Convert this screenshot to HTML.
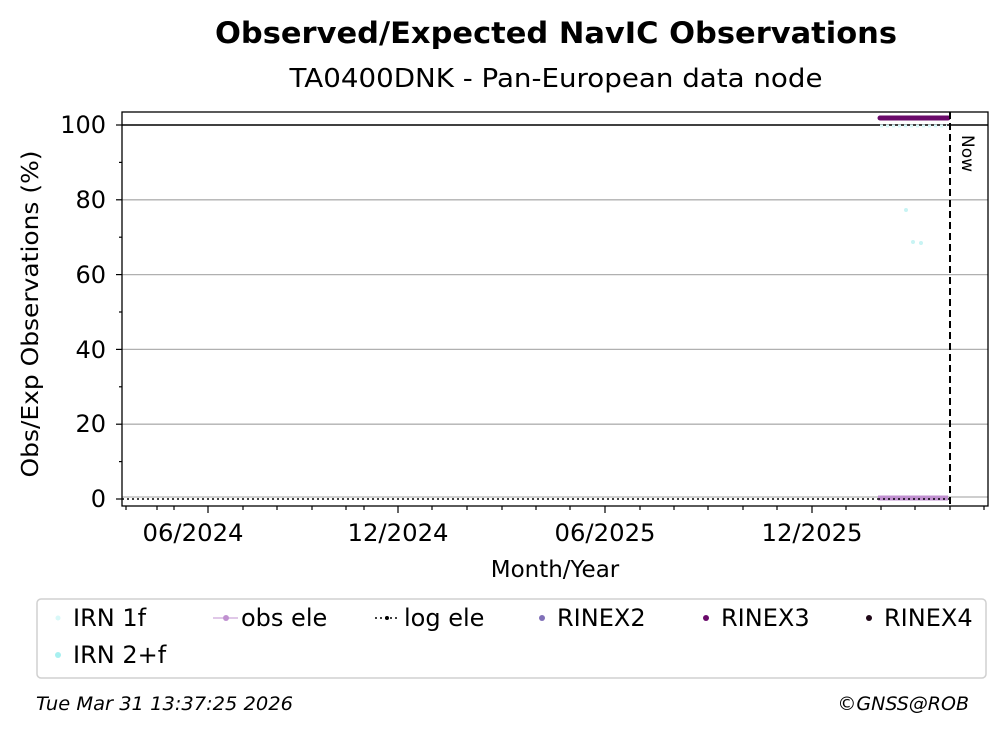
<!DOCTYPE html>
<html><head><style>body{margin:0;background:#fff}svg{display:block;font-family:"DejaVu Sans","Liberation Sans",sans-serif}</style></head><body>
<svg width="1008" height="734" viewBox="0 0 1008 734">
<text x="556" y="43" text-anchor="middle" font-size="29" font-weight="bold" textLength="682" lengthAdjust="spacingAndGlyphs">Observed/Expected NavIC Observations</text>
<text x="556" y="87" text-anchor="middle" font-size="26" textLength="533" lengthAdjust="spacingAndGlyphs">TA0400DNK - Pan-European data node</text>
<g stroke="#b0b0b0" stroke-width="1.3">
<line x1="122" x2="988" y1="199.8" y2="199.8"/><line x1="122" x2="988" y1="274.6" y2="274.6"/><line x1="122" x2="988" y1="349.4" y2="349.4"/><line x1="122" x2="988" y1="424.2" y2="424.2"/><line x1="122" x2="988" y1="497" y2="497"/>
</g>
<line x1="122" x2="988" y1="125" y2="125" stroke="#000" stroke-width="1.5"/>
<line x1="122" x2="950" y1="499" y2="499" stroke="#000" stroke-width="1.5" stroke-dasharray="2,3"/>
<line x1="878" x2="948" y1="498" y2="498" stroke="#c090d0" stroke-width="5"/>
<line x1="878" x2="948" y1="499" y2="499" stroke="#000" stroke-width="1.5" stroke-dasharray="2,3"/>
<g fill="#c8f4f4"><circle cx="906" cy="210" r="2"/><circle cx="913" cy="242" r="2"/><circle cx="921" cy="243" r="2"/></g>
<line x1="880" x2="947" y1="126" y2="126" stroke="#d8f8f8" stroke-width="3" stroke-dasharray="3,3"/>
<line x1="880" x2="948" y1="118" y2="118" stroke="#6a0a6a" stroke-width="5" stroke-linecap="round"/>
<line x1="950" x2="950" y1="112" y2="506" stroke="#000" stroke-width="2" stroke-dasharray="7,4"/>
<text x="962" y="135" font-size="17" transform="rotate(90 962 135)">Now</text>
<rect x="122" y="112" width="866" height="394" fill="none" stroke="#000" stroke-width="1.3"/>
<g stroke="#000" stroke-width="1.2">
<line x1="116" x2="122" y1="125" y2="125"/><line x1="116" x2="122" y1="199.8" y2="199.8"/><line x1="116" x2="122" y1="274.6" y2="274.6"/><line x1="116" x2="122" y1="349.4" y2="349.4"/><line x1="116" x2="122" y1="424.2" y2="424.2"/><line x1="116" x2="122" y1="499" y2="499"/>
<line x1="119" x2="122" y1="162.4" y2="162.4"/><line x1="119" x2="122" y1="237.2" y2="237.2"/><line x1="119" x2="122" y1="312" y2="312"/><line x1="119" x2="122" y1="386.8" y2="386.8"/><line x1="119" x2="122" y1="461.6" y2="461.6"/>
<line x1="208" x2="208" y1="506" y2="513"/><line x1="398" x2="398" y1="506" y2="513"/><line x1="605" x2="605" y1="506" y2="513"/><line x1="812" x2="812" y1="506" y2="513"/>
<path d="M126 506v4M157 506v4M174 506v4M243 506v4M277 506v4M312 506v4M346 506v4M364 506v4M432 506v4M467 506v4M502 506v4M536 506v4M570 506v4M640 506v4M674 506v4M708 506v4M743 506v4M777 506v4M846 506v4M881 506v4M915 506v4M950 506v4M984 506v4"/>
</g>
<g font-size="24" text-anchor="end"><text x="106" y="133">100</text><text x="106" y="208">80</text><text x="106" y="283">60</text><text x="106" y="358">40</text><text x="106" y="432">20</text><text x="106" y="507">0</text></g>
<g font-size="24" text-anchor="middle"><text x="193" y="541" textLength="101" lengthAdjust="spacingAndGlyphs">06/2024</text><text x="398" y="541" textLength="101" lengthAdjust="spacingAndGlyphs">12/2024</text><text x="605" y="541" textLength="101" lengthAdjust="spacingAndGlyphs">06/2025</text><text x="812" y="541" textLength="101" lengthAdjust="spacingAndGlyphs">12/2025</text></g>
<text x="555" y="577" text-anchor="middle" font-size="23">Month/Year</text>
<text x="38" y="314" text-anchor="middle" font-size="23" transform="rotate(-90 38 314)" textLength="327" lengthAdjust="spacingAndGlyphs">Obs/Exp Observations (%)</text>
<rect x="37" y="599" width="949" height="79" rx="4" fill="none" stroke="#d0d0d0" stroke-width="1.5"/>
<g font-size="24">
<circle cx="58" cy="618" r="2.5" fill="#d8f8f8"/><text x="73" y="626">IRN 1f</text>
<circle cx="58" cy="655" r="3" fill="#a8f0f0"/><text x="73" y="663">IRN 2+f</text>
<line x1="213" x2="238" y1="618" y2="618" stroke="#c090d0"/><circle cx="226" cy="618" r="3" fill="#c090d0"/><text x="241" y="626">obs ele</text>
<line x1="375" x2="400" y1="618" y2="618" stroke="#000" stroke-width="1.5" stroke-dasharray="2,3"/><circle cx="387" cy="618" r="2" fill="#000"/><text x="404" y="626">log ele</text>
<circle cx="542" cy="618" r="3" fill="#8070b8"/><text x="557" y="626">RINEX2</text>
<circle cx="706" cy="618" r="3" fill="#6a0a6a"/><text x="721" y="626">RINEX3</text>
<circle cx="869" cy="618" r="3" fill="#200818"/><text x="884" y="626">RINEX4</text>
</g>
<text x="36" y="710" font-size="19" font-style="italic" textLength="257" lengthAdjust="spacingAndGlyphs">Tue Mar 31 13:37:25 2026</text>
<text x="969" y="710" font-size="19" font-style="italic" text-anchor="end">©GNSS@ROB</text>
</svg></body></html>
